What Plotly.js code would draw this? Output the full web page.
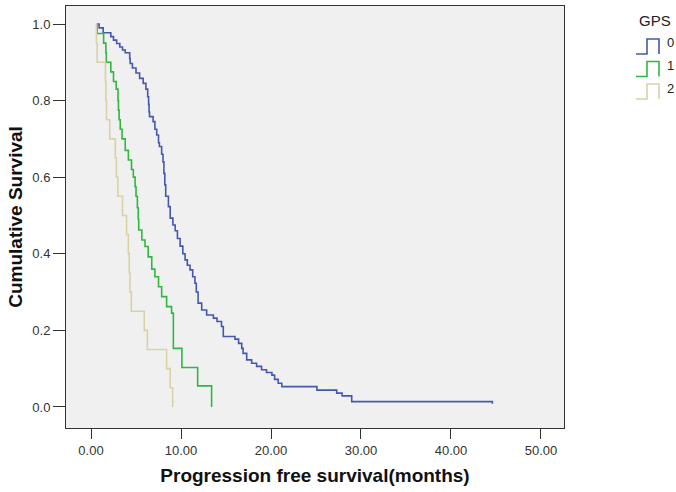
<!DOCTYPE html>
<html>
<head>
<meta charset="utf-8">
<script src="https://cdn.plot.ly/plotly-3.0.1.min.js"></script>
<style>
html,body{margin:0;padding:0;background:#fff;}
#chart{width:676px;height:492px;}
</style>
</head>
<body>
<div id="chart"></div>
<script>
// ---- Data ----
const groupNames = ["0", "1", "2"];
const legendTitle = "GPS";

const gps0Time = [0.74, 0.9, 1.35, 2.2, 2.5, 2.85, 3.2, 3.5, 3.8, 4.3, 4.35, 4.6, 5.0, 5.4, 5.8, 6.1, 6.3, 6.4, 6.45, 6.5, 6.9, 7.1, 7.3, 7.5, 7.6, 7.85, 8.0, 8.1, 8.2, 8.3, 8.6, 8.8, 9.1, 9.35, 9.6, 9.9, 10.2, 10.45, 10.7, 11.0, 11.3, 11.55, 11.7, 11.9, 12.3, 12.85, 13.6, 14.0, 14.5, 14.7, 16.0, 16.4, 16.75, 16.9, 17.3, 17.85, 18.4, 18.95, 19.5, 20.1, 20.4, 20.8, 21.2, 25.1, 27.3, 27.9, 28.97, 44.6];
const gps0Surv = [1.0, 0.99, 0.977, 0.967, 0.958, 0.949, 0.94, 0.932, 0.925, 0.91, 0.897, 0.885, 0.872, 0.858, 0.845, 0.83, 0.81, 0.79, 0.77, 0.758, 0.745, 0.725, 0.71, 0.69, 0.68, 0.66, 0.64, 0.61, 0.58, 0.55, 0.523, 0.493, 0.475, 0.46, 0.44, 0.42, 0.4, 0.384, 0.37, 0.358, 0.34, 0.323, 0.3, 0.271, 0.253, 0.24, 0.232, 0.223, 0.21, 0.184, 0.177, 0.166, 0.153, 0.14, 0.123, 0.114, 0.106, 0.097, 0.09, 0.083, 0.072, 0.062, 0.053, 0.044, 0.036, 0.029, 0.014, 0.008];

const gps1Time = [0.56, 0.68, 1.4, 1.65, 1.7, 2.2, 2.5, 2.8, 3.0, 3.05, 3.12, 3.25, 3.45, 3.8, 4.15, 4.5, 4.7, 4.9, 5.0, 5.15, 5.25, 5.3, 5.65, 6.0, 6.35, 6.75, 7.1, 7.5, 7.85, 8.4, 8.95, 9.15, 10.1, 11.85, 13.4];
const gps1Surv = [1.0, 0.975, 0.95, 0.925, 0.9, 0.875, 0.85, 0.83, 0.8, 0.775, 0.75, 0.725, 0.7, 0.67, 0.645, 0.62, 0.6, 0.575, 0.55, 0.52, 0.49, 0.462, 0.436, 0.419, 0.392, 0.36, 0.34, 0.314, 0.288, 0.262, 0.245, 0.153, 0.103, 0.055, 0.0];

const gps2Time = [0.55, 0.6, 0.68, 1.6, 1.66, 1.72, 2.08, 2.7, 2.82, 2.98, 3.5, 3.95, 4.15, 4.25, 4.33, 4.48, 5.92, 6.26, 8.4, 8.8, 9.07];
const gps2Surv = [1.0, 0.95, 0.9, 0.85, 0.8, 0.75, 0.7, 0.65, 0.6, 0.55, 0.5, 0.45, 0.4, 0.35, 0.3, 0.25, 0.2, 0.15, 0.1, 0.05, 0.0];

const xTickVals = [0, 10, 20, 30, 40, 50];
const yTickVals = [0.0, 0.2, 0.4, 0.6, 0.8, 1.0];

// ---- Styles ----
const colors = ["#4558b0", "#2fb840", "#d8d2a6"];
const FONT = "Liberation Sans, Arial, Helvetica, sans-serif";

const series = [[gps0Time, gps0Surv], [gps1Time, gps1Surv], [gps2Time, gps2Surv]];
const traces = series.map((s, i) => ({
  type: "scatter", mode: "lines",
  x: s[0], y: s[1], name: groupNames[i],
  line: {shape: "hv", color: colors[i], width: 1.6},
  showlegend: false, hoverinfo: "skip"
}));

// plot area in pixels
const L = 66, R = 112, T = 6, B = 64, W = 676, H = 492;
const pw = W - L - R, ph = H - T - B;
const px = v => (v - L) / pw;
const py = v => (T + ph - v) / ph;

// custom step-shaped legend glyphs
const shapes = [];
const annotations = [{
  xref: "paper", yref: "paper", x: px(655), y: py(20), text: legendTitle,
  showarrow: false, xanchor: "center", yanchor: "middle",
  font: {family: FONT, size: 15, color: "#222"}
}];
groupNames.forEach((g, i) => {
  const top = 39 + i * 22.5, bot = top + 15;
  const x0 = 636, x1 = 647, x2 = 659;
  shapes.push({
    type: "path", xref: "paper", yref: "paper",
    path: `M ${px(x0)} ${py(bot)} L ${px(x1)} ${py(bot)} L ${px(x1)} ${py(top)} L ${px(x2)} ${py(top)} L ${px(x2)} ${py(bot)}`,
    line: {color: colors[i], width: 1.6}
  });
  annotations.push({
    xref: "paper", yref: "paper", x: px(665), y: py(top + 4), text: g,
    showarrow: false, xanchor: "left", yanchor: "middle",
    font: {family: FONT, size: 13, color: "#222"}
  });
});

const layout = {
  width: W, height: H,
  margin: {l: L, r: R, t: T, b: B, pad: 0},
  paper_bgcolor: "#ffffff",
  plot_bgcolor: "#f0f0f0",
  font: {family: FONT, size: 13, color: "#333"},
  showlegend: false,
  xaxis: {
    range: [-2.78, 52.56], tickvals: xTickVals, tickformat: ".2f",
    ticks: "outside", ticklen: 10, tickwidth: 1, tickcolor: "#333",
    showline: true, mirror: true, linecolor: "#333", linewidth: 1,
    showgrid: false, zeroline: false,
    tickfont: {family: FONT, size: 13, color: "#333"},
    title: {text: "<b>Progression free survival(months)</b>", standoff: 12,
            font: {family: FONT, size: 19, color: "#111"}}
  },
  yaxis: {
    range: [-0.055, 1.047], tickvals: yTickVals, tickformat: ".1f",
    ticks: "outside", ticklen: 12, tickwidth: 1, tickcolor: "#333",
    showline: true, mirror: true, linecolor: "#333", linewidth: 1,
    showgrid: false, zeroline: false,
    tickfont: {family: FONT, size: 13, color: "#333"},
    title: {text: "<b>Cumulative Survival</b>", standoff: 4,
            font: {family: FONT, size: 19, color: "#111"}}
  },
  shapes: shapes,
  annotations: annotations
};

Plotly.newPlot("chart", traces, layout, {displayModeBar: false, staticPlot: true});
</script>
</body>
</html>
